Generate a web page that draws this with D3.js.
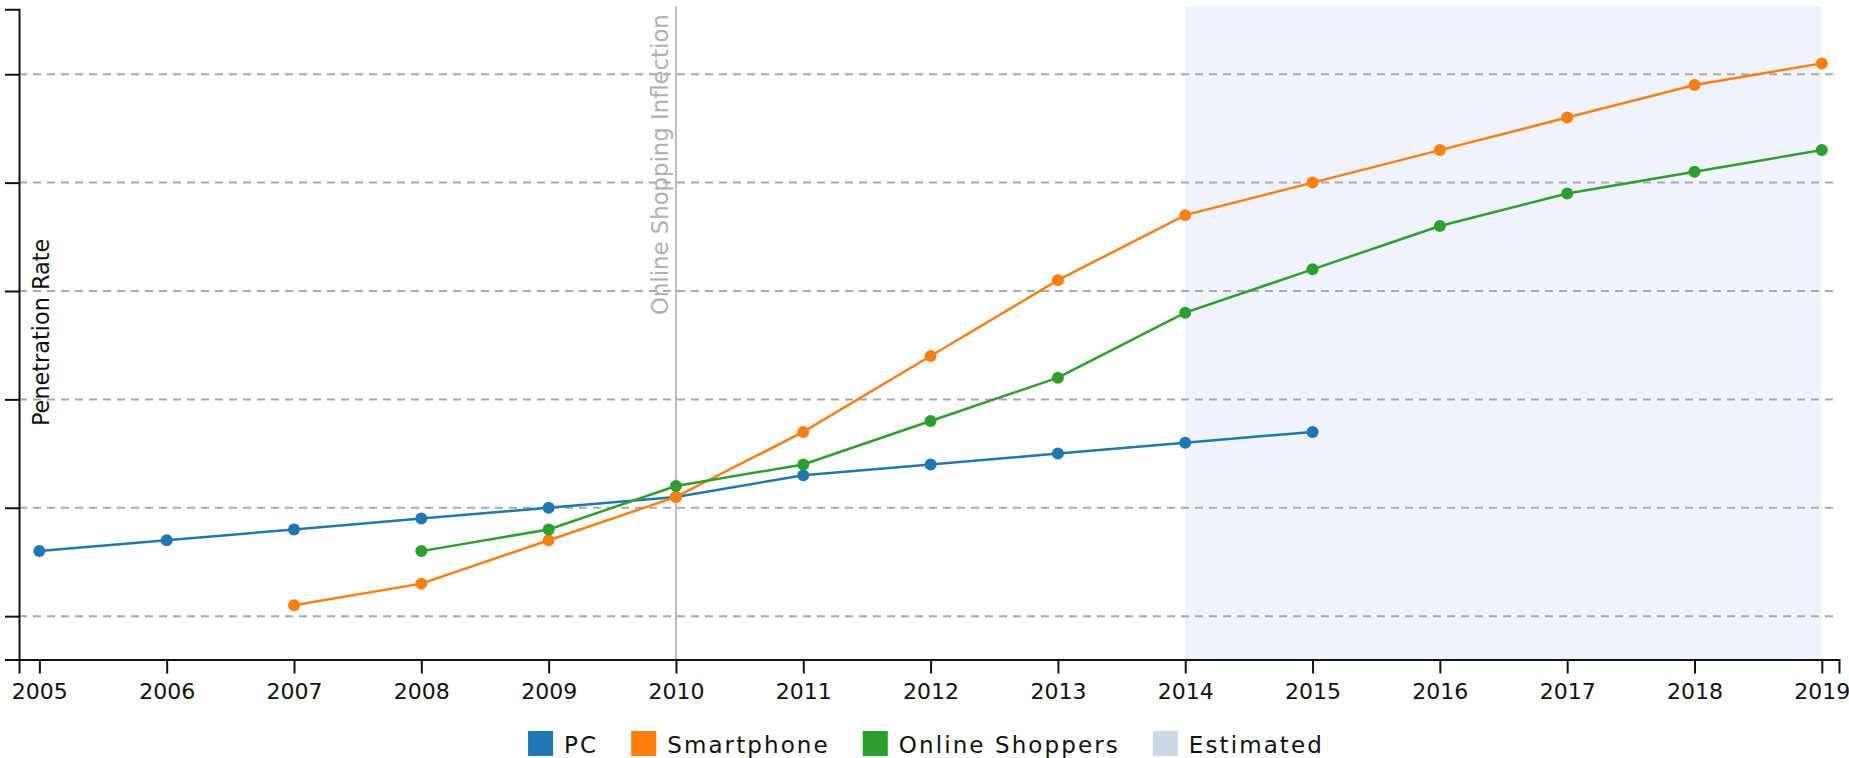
<!DOCTYPE html>
<html>
<head>
<meta charset="utf-8">
<script src="https://cdn.jsdelivr.net/npm/d3@7"></script>
<style>
  html, body { margin: 0; padding: 0; background: #fff; }
  svg { display: block; font-family: "DejaVu Sans", sans-serif; }
</style>
</head>
<body>
<svg id="chart" width="1849" height="758"></svg>
<script>
// Year ticks along the x axis
const yearTicks = [2005, 2006, 2007, 2008, 2009, 2010, 2011, 2012, 2013, 2014, 2015, 2016, 2017, 2018, 2019];

// Penetration rate series (percent)
const pcYears = [2005, 2006, 2007, 2008, 2009, 2010, 2011, 2012, 2013, 2014, 2015];
const pcValues = [16, 17, 18, 19, 20, 21, 23, 24, 25, 26, 27];

const smartphoneYears = [2007, 2008, 2009, 2010, 2011, 2012, 2013, 2014, 2015, 2016, 2017, 2018, 2019];
const smartphoneValues = [11, 13, 17, 21, 27, 34, 41, 47, 50, 53, 56, 59, 61];

const shopperYears = [2008, 2009, 2010, 2011, 2012, 2013, 2014, 2015, 2016, 2017, 2018, 2019];
const shopperValues = [16, 18, 22, 24, 28, 32, 38, 42, 46, 49, 51, 53];

const seriesNames = ["PC", "Smartphone", "Online Shoppers"];
const seriesColors = ["#1f77b4", "#ff7f0e", "#2ca02c"];

// Shaded forecast window and the marker year
const estimatedRange = [2014, 2019];
const inflectionYear = 2010;
const inflectionLabel = "Online Shopping Inflection";
const yAxisLabel = "Penetration Rate";
const estimatedLabel = "Estimated";

const series = [
  { name: seriesNames[0], color: seriesColors[0], points: pcYears.map((yr, i) => ({ year: yr, value: pcValues[i] })) },
  { name: seriesNames[1], color: seriesColors[1], points: smartphoneYears.map((yr, i) => ({ year: yr, value: smartphoneValues[i] })) },
  { name: seriesNames[2], color: seriesColors[2], points: shopperYears.map((yr, i) => ({ year: yr, value: shopperValues[i] })) }
];

const svg = d3.select("#chart");

const allValues = pcValues.concat(smartphoneValues, shopperValues);
const yMin = d3.min(allValues) - 5;
const yMax = d3.max(allValues) + 5;

const plotLeft = 19, plotRight = 1839, plotTop = 9.2, plotBottom = 659.5;

const x = d3.scaleLinear()
  .domain([yearTicks[0] - 0.16, yearTicks[yearTicks.length - 1] + 0.135])
  .range([plotLeft, plotRight]);

const y = d3.scaleLinear()
  .domain([yMin, yMax])
  .range([plotBottom, plotTop]);

const gridValues = y.ticks(6);

// Estimated region
svg.append("rect")
  .attr("x", x(estimatedRange[0]))
  .attr("y", plotTop - 3)
  .attr("width", x(estimatedRange[1]) - x(estimatedRange[0]))
  .attr("height", plotBottom - plotTop + 3)
  .attr("fill", "#eef3fc");

// Horizontal dashed grid
svg.append("g")
  .selectAll("line")
  .data(gridValues)
  .join("line")
  .attr("x1", plotLeft)
  .attr("x2", plotRight)
  .attr("y1", d => y(d))
  .attr("y2", d => y(d))
  .attr("stroke", "#aaaaaa")
  .attr("stroke-width", 2)
  .attr("stroke-dasharray", "8,6");

// Inflection marker
svg.append("line")
  .attr("x1", x(inflectionYear))
  .attr("x2", x(inflectionYear))
  .attr("y1", plotTop - 3)
  .attr("y2", plotBottom)
  .attr("stroke", "#bbbbbb")
  .attr("stroke-width", 2);

svg.append("text")
  .attr("transform", `translate(${x(inflectionYear) - 8},${plotTop + 5}) rotate(-90)`)
  .attr("text-anchor", "end")
  .attr("fill", "#b0b0b0")
  .attr("font-size", 22.8)
  .text(inflectionLabel);

// Axes
const yAxis = svg.append("g")
  .attr("transform", `translate(${plotLeft},0)`)
  .call(d3.axisLeft(y).tickValues(gridValues).tickSize(14).tickSizeOuter(14).tickFormat(""));

const xAxis = svg.append("g")
  .attr("transform", `translate(0,${plotBottom})`)
  .call(d3.axisBottom(x).tickValues(yearTicks).tickFormat(d3.format("d")).tickSize(14).tickSizeOuter(14).tickPadding(10));

[yAxis, xAxis].forEach(g => {
  g.select(".domain").attr("stroke", "#111").attr("stroke-width", 2);
  g.selectAll(".tick line").attr("stroke", "#111").attr("stroke-width", 2);
  g.selectAll(".tick text").attr("fill", "#111").attr("font-size", 22).attr("font-family", "DejaVu Sans, sans-serif");
});

// Y axis title
svg.append("text")
  .attr("transform", `translate(49,${(plotTop + plotBottom) / 2 - 2}) rotate(-90)`)
  .attr("text-anchor", "middle")
  .attr("fill", "#111")
  .attr("font-size", 22.4)
  .text(yAxisLabel);

// Series lines and points
const line = d3.line().x(d => x(d.year)).y(d => y(d.value));

const seriesG = svg.append("g")
  .selectAll("g")
  .data(series)
  .join("g");

seriesG.append("path")
  .attr("d", d => line(d.points))
  .attr("fill", "none")
  .attr("stroke", d => d.color)
  .attr("stroke-width", 2.5);

seriesG.selectAll("circle")
  .data(d => d.points.map(p => ({ ...p, color: d.color })))
  .join("circle")
  .attr("cx", d => x(d.year))
  .attr("cy", d => y(d.value))
  .attr("r", 6)
  .attr("fill", d => d.color);

// Legend
const legendItems = series.map(s => ({ name: s.name, color: s.color }))
  .concat([{ name: estimatedLabel, color: "#ccd9e4" }]);

const legend = svg.append("g");
const sw = 25, textGap = 11, itemGap = 33;
const items = legend.selectAll("g")
  .data(legendItems)
  .join("g");

items.append("rect")
  .attr("width", sw)
  .attr("height", sw)
  .attr("fill", d => d.color);

items.append("text")
  .attr("x", sw + textGap)
  .attr("y", sw - 3)
  .attr("font-size", 23)
  .attr("letter-spacing", 2.1)
  .attr("fill", "#111")
  .text(d => d.name);

let cursor = 0;
const widths = [];
items.each(function () {
  const w = sw + textGap + d3.select(this).select("text").node().getComputedTextLength();
  widths.push(w);
});
const total = d3.sum(widths) + itemGap * (widths.length - 1);
const startX = (plotLeft + plotRight) / 2 - total / 2 - 3;
items.attr("transform", (d, i) => {
  const tx = startX + cursor;
  cursor += widths[i] + itemGap;
  return `translate(${tx},731)`;
});
</script>
</body>
</html>
